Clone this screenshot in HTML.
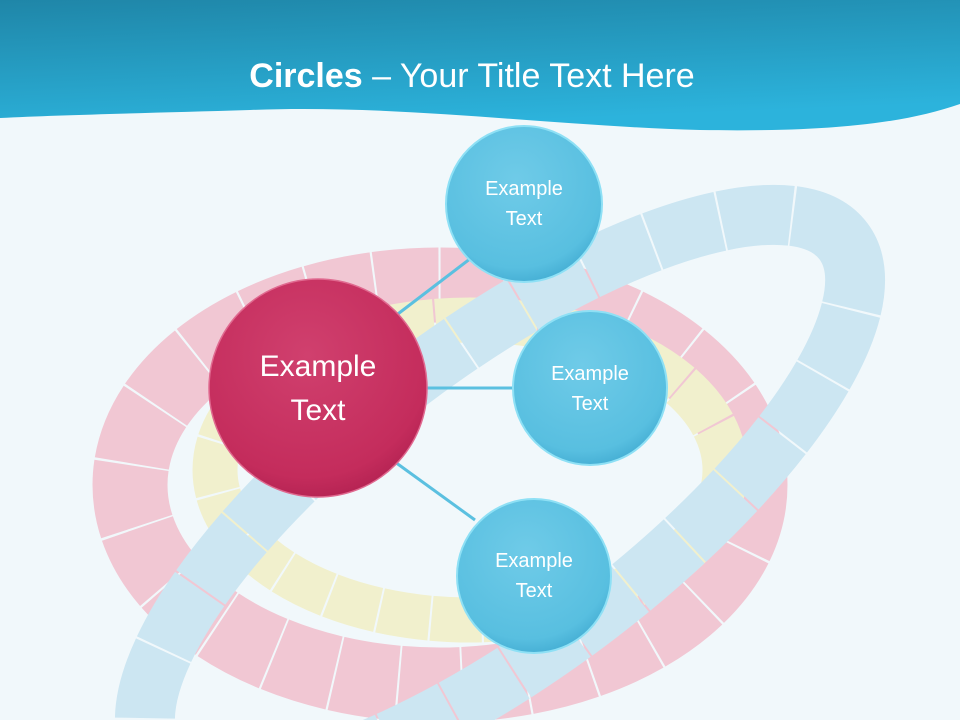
<!DOCTYPE html>
<html><head><meta charset="utf-8"><style>
html,body{margin:0;padding:0;overflow:hidden}
body{width:960px;height:720px;overflow:hidden;background:#f1f8fb;font-family:"Liberation Sans",sans-serif;position:relative}
svg{position:absolute;left:0;top:0}
.t{position:absolute;color:#fff;text-align:center}
</style></head><body>
<svg width="960" height="720" viewBox="0 0 960 720">
<defs>
<clipPath id="c"><rect width="960" height="720"/></clipPath>
<linearGradient id="hd" x1="0" y1="0" x2="0.3" y2="1">
<stop offset="0" stop-color="#1f86a8"/><stop offset="1" stop-color="#2cb3dc"/></linearGradient>
<radialGradient id="pk" cx="0.45" cy="0.35" r="0.7">
<stop offset="0" stop-color="#d0406e"/><stop offset="0.8" stop-color="#c42c5c"/><stop offset="1" stop-color="#b02050"/></radialGradient>
<radialGradient id="bl" cx="0.45" cy="0.35" r="0.7">
<stop offset="0" stop-color="#6fcbe8"/><stop offset="0.8" stop-color="#58bfe0"/><stop offset="1" stop-color="#3fa9d0"/></radialGradient>
</defs>
<g opacity="0.85" clip-path="url(#c)">
<ellipse cx="440" cy="485" rx="310" ry="200" fill="none" stroke="#f2bfcd" stroke-width="75" stroke-dasharray="62 2"/>
<ellipse cx="470" cy="470" rx="255" ry="150" fill="none" stroke="#f2efc6" stroke-width="45" stroke-dasharray="50 2"/>
<ellipse cx="500" cy="500" rx="430" ry="150" transform="rotate(-37 500 500)" fill="none" stroke="#c6e3f1" stroke-width="60" stroke-dasharray="70 2"/>
</g>
<path d="M0 0H960V104C900 125 820 132 700 130C550 126 400 104 250 110C150 113 60 115 0 118Z" fill="url(#hd)"/>
<g stroke="#5bc0e0" stroke-width="3">
<line x1="390" y1="320" x2="475" y2="255"/>
<line x1="420" y1="388" x2="515" y2="388"/>
<line x1="395" y1="462" x2="475" y2="520"/>
</g>
<circle cx="318" cy="388" r="109" fill="url(#pk)" stroke="#e06a90" stroke-width="1.5"/>
<circle cx="524" cy="204" r="78" fill="url(#bl)" stroke="#8ee0f5" stroke-width="2"/>
<circle cx="590" cy="388" r="77" fill="url(#bl)" stroke="#8ee0f5" stroke-width="2"/>
<circle cx="534" cy="576" r="77" fill="url(#bl)" stroke="#8ee0f5" stroke-width="2"/>
</svg>
<div class="t" style="left:0;width:944px;top:54px;font-size:34px;line-height:44px"><b>Circles</b> – Your Title Text Here</div>
<div class="t" style="left:218px;width:200px;top:345px;font-size:30px;line-height:44px">Example<br>Text</div>
<div class="t" style="left:444px;width:160px;top:174px;font-size:20px;line-height:30px">Example<br>Text</div>
<div class="t" style="left:510px;width:160px;top:359px;font-size:20px;line-height:30px">Example<br>Text</div>
<div class="t" style="left:454px;width:160px;top:546px;font-size:20px;line-height:30px">Example<br>Text</div>
</body></html>
